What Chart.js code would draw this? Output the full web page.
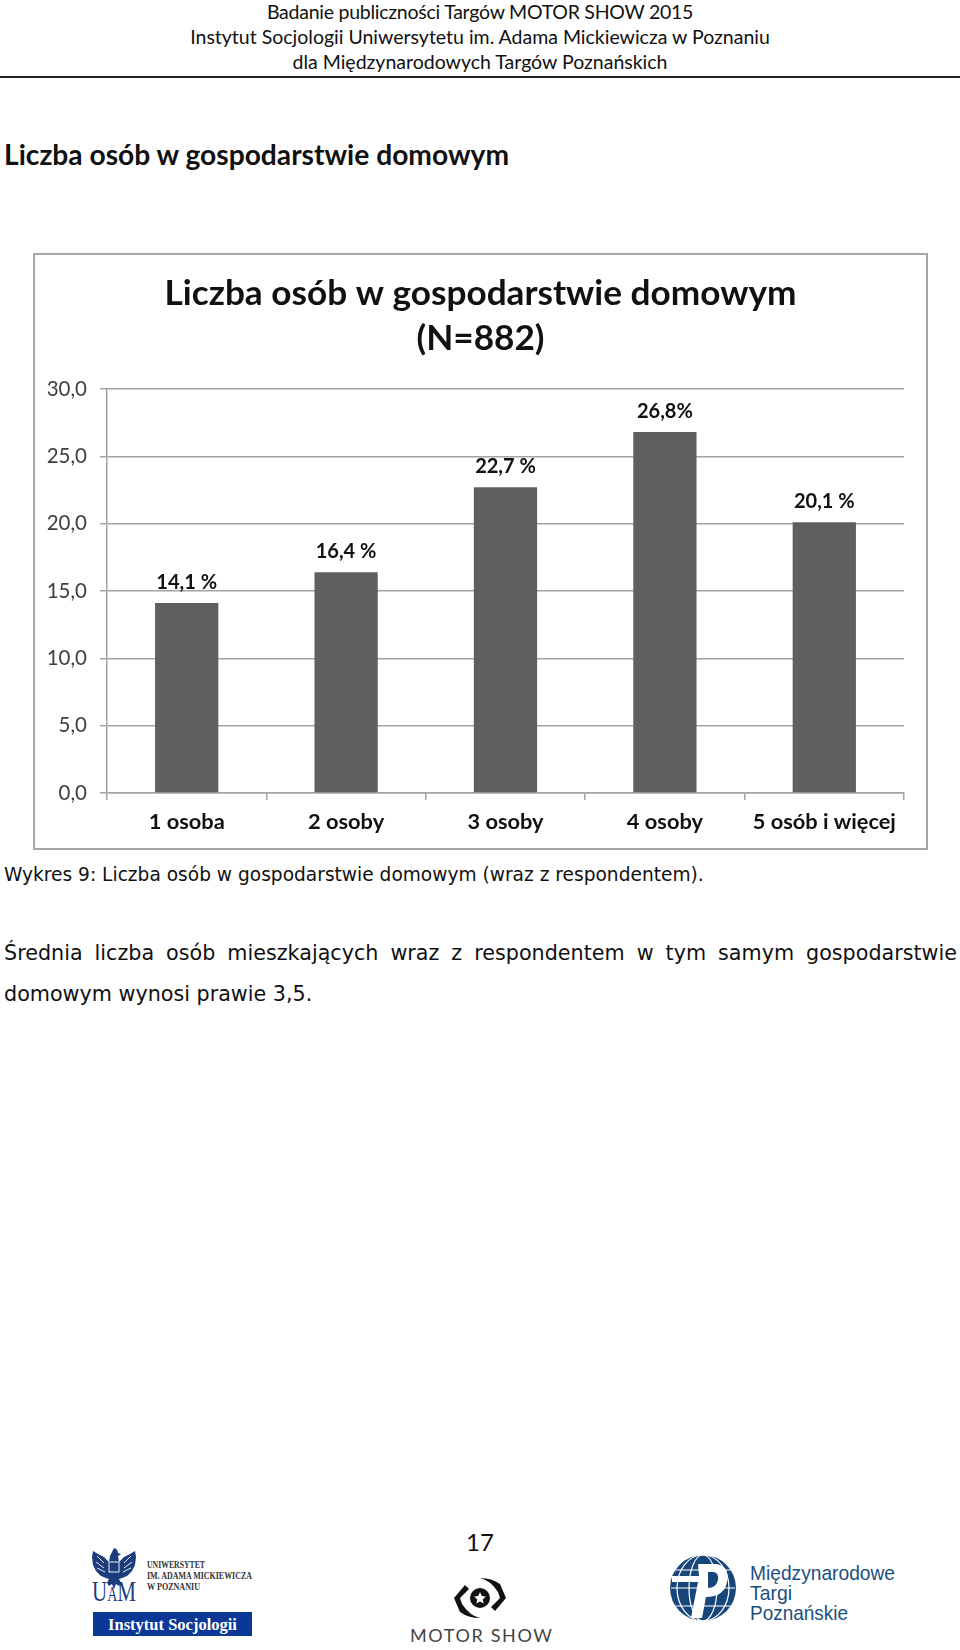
<!DOCTYPE html>
<html lang="pl">
<head>
<meta charset="utf-8">
<title>Liczba osób w gospodarstwie domowym</title>
<script src="https://cdn.jsdelivr.net/npm/chart.js@4"></script>
<style>
html, body { margin: 0; padding: 0; background: #fff; }
body { width: 960px; height: 1650px; position: relative; overflow: hidden; color: #111; }
.t { position: absolute; white-space: nowrap; }
.head { left: 0; width: 960px; text-align: center; font: 19.5px/26px Lato, sans-serif; }
.body { font-family: "DejaVu Sans", sans-serif; }
#rule { position: absolute; left: 0; top: 76px; width: 960px; height: 2px; background: #222; }
#frame { position: absolute; left: 33px; top: 253px; width: 891px; height: 593px; border: 2px solid #a6a6a6; }
#frame canvas { display: block; }
#logos { position: absolute; left: 0; top: 1500px; }
</style>
</head>
<body>
<div class="t head" style="top:-1px;letter-spacing:-0.25px">Badanie publiczności Targów MOTOR SHOW 2015</div>
<div class="t head" style="top:24px">Instytut Socjologii Uniwersytetu im. Adama Mickiewicza w Poznaniu</div>
<div class="t head" style="top:49px">dla Międzynarodowych Targów Poznańskich</div>
<div id="rule"></div>
<div class="t" style="left:4px;top:136px;font:bold 28.2px/36px Lato,sans-serif">Liczba osób w gospodarstwie domowym</div>

<div id="frame"><canvas id="barChart" width="891" height="593"></canvas></div>

<div class="t body" style="left:4px;top:863px;font-size:18.6px;line-height:24px">Wykres 9: Liczba osób w gospodarstwie domowym (wraz z respondentem).</div>
<div class="t body" style="left:4px;top:933px;width:953px;font-size:20.7px;line-height:41px;white-space:normal;text-align:justify">Średnia liczba osób mieszkających wraz z respondentem w tym samym gospodarstwie domowym wynosi prawie 3,5.</div>

<div class="t" style="left:0;width:960px;text-align:center;top:1527px;font:24px/30px Lato,sans-serif">17</div>

<svg id="logos" width="960" height="150" viewBox="0 1500 960 150" xmlns="http://www.w3.org/2000/svg">
  <!-- UAM -->
  <g fill="#1d3c7c">
    <path d="M114 1548q4 1 4 5l3 1-3 2 1 6 5-5 6-3 5-3 1 6-1 8-3 6-5 5-5 2-3 1 2 4-2 3-3-2-2 5-2-5-3 2-2-3 2-4-3-1-5-2-5-5-3-6-1-8 1-6 5 3 6 3 5 5 1-6z"/>
    <g fill="none" stroke="#fff" stroke-width="0.9">
      <path d="M97 1556l7 7M96 1562l8 6M97 1568l8 4M131 1556l-7 7M132 1562l-8 6M131 1568l-8 4"/>
      <rect x="109" y="1562" width="10" height="10"/>
    </g>
    <text x="92" y="1601" font-family="Liberation Serif" font-size="30" textLength="44" lengthAdjust="spacingAndGlyphs">U<tspan font-size="20">A</tspan>M</text>
    <text x="147" y="1568" font-family="Liberation Serif" font-weight="bold" font-size="10" textLength="58" lengthAdjust="spacingAndGlyphs" fill="#333">UNIWERSYTET</text>
    <text x="147" y="1579" font-family="Liberation Serif" font-weight="bold" font-size="10" textLength="105" lengthAdjust="spacingAndGlyphs" fill="#333">IM. ADAMA MICKIEWICZA</text>
    <text x="147" y="1590" font-family="Liberation Serif" font-weight="bold" font-size="10" textLength="53" lengthAdjust="spacingAndGlyphs" fill="#333">W POZNANIU</text>
    <rect x="93" y="1612" width="159" height="24" fill="#0b3797"/>
  </g>
  <text x="172.500" y="1630" text-anchor="middle" font-family="Liberation Serif" font-weight="bold" font-size="16.500" fill="#fff">Instytut Socjologii</text>
  <!-- Motor Show -->
  <circle cx="480" cy="1598" r="10" fill="#111"/>
  <path d="M480 1592l1.800 4 4 .5-3 3 .8 4-3.600-2-3.600 2 .8-4-3-3 4-.5z" fill="#fff"/>
  <path d="M465 1585L454 1598 460 1612Q468 1618 480 1618 470 1616 462 1604L460 1598 469 1589z" fill="#111"/>
  <path d="M495 1611L506 1598 500 1584Q492 1578 480 1578 490 1580 498 1592L500 1598 491 1607z" fill="#111"/>
  <text x="410" y="1642" font-family="Lato" font-size="18" textLength="142" fill="#444">MOTOR SHOW</text>
  <!-- MTP -->
  <circle cx="703" cy="1588" r="33" fill="#17477a"/>
  <g fill="none" stroke="#fff" stroke-width="1.200">
    <ellipse cx="703" cy="1588" rx="14" ry="33"/>
    <ellipse cx="703" cy="1588" rx="26" ry="33"/>
    <path d="M675 1570H731M671 1588H735M675 1606H731"/>
  </g>
  <path d="M698 1564H716Q730 1566 727 1582 724 1597 706 1597L702 1618H691L698 1582H672V1576H699z" fill="#fff"/>
  <path d="M708 1572h6q5 1 4 8-2 8-10 8z" fill="#17477a"/>
  <g font-family="Liberation Sans" font-size="21" fill="#1b4f80">
    <text x="750" y="1580" textLength="145" lengthAdjust="spacingAndGlyphs">Międzynarodowe</text>
    <text x="750" y="1600" textLength="42" lengthAdjust="spacingAndGlyphs">Targi</text>
    <text x="750" y="1620" textLength="98" lengthAdjust="spacingAndGlyphs">Poznańskie</text>
  </g>
</svg>

<script>
var categories = ['1 osoba', '2 osoby', '3 osoby', '4 osoby', '5 osób i więcej'];
var values = [14.1, 16.4, 22.7, 26.8, 20.1];
var valueLabels = ['14,1 %', '16,4 %', '22,7 %', '26,8%', '20,1 %'];
var yTicks = [0, 5, 10, 15, 20, 25, 30];
var chartTitle = ['Liczba osób w gospodarstwie domowym', '(N=882)'];

var lineColor = '#a3a3a3';

// title is centred on the whole frame, not on the padded area,
// bar labels sit a fixed distance above the bar top
var chartTexts = {
    id: 'chartTexts',
    afterDatasetsDraw: function (chart) {
        var c = chart.ctx;
        c.save();
        c.fillStyle = '#111';
        c.textAlign = 'center';
        c.textBaseline = 'middle';
        c.font = 'bold 35.2px Lato';
        chartTitle.forEach(function (line, i) {
            c.fillText(line, chart.width / 2, 39 + i * 45);
        });
        c.font = 'bold 20px Lato';
        chart.getDatasetMeta(0).data.forEach(function (bar, i) {
            c.fillText(valueLabels[i], bar.x, bar.y - 21);
        });
        c.restore();
    }
};

var ctx = document.getElementById('barChart').getContext('2d');
var myChart = new Chart(ctx, {
    type: 'bar',
    data: {
        labels: categories,
        datasets: [{
            label: '',
            data: values,
            backgroundColor: '#5f5f5f',
            borderWidth: 0,
            categoryPercentage: 1,
            barPercentage: 0.397
        }]
    },
    options: {
        responsive: false,
        animation: false,
        layout: { padding: { left: 0, right: 22, top: 134, bottom: 0 } },
        plugins: {
            legend: { display: false },
            tooltip: { enabled: false },
            title: { display: false }
        },
        scales: {
            x: {
                afterFit: function (scale) { scale.height = 55; },
                border: { color: lineColor, width: 1.5 },
                grid: { offset: true, drawOnChartArea: false, color: lineColor, lineWidth: 1.5, tickLength: 7 },
                ticks: {
                    color: '#111',
                    padding: 9,
                    maxRotation: 0,
                    font: { family: 'Lato', size: 21.8, weight: 'bold' }
                }
            },
            y: {
                min: 0,
                max: 30,
                afterFit: function (scale) { scale.width = 72; },
                afterBuildTicks: function (scale) {
                    scale.ticks = yTicks.map(function (v) { return { value: v }; });
                },
                border: { color: lineColor, width: 1.5 },
                grid: { color: lineColor, lineWidth: 1.5, tickLength: 7 },
                ticks: {
                    color: '#404040',
                    padding: 13,
                    font: { family: 'Lato', size: 20.5 },
                    callback: function (v) { return v.toFixed(1).replace('.', ','); }
                }
            }
        }
    },
    plugins: [chartTexts]
});
</script>
</body>
</html>
